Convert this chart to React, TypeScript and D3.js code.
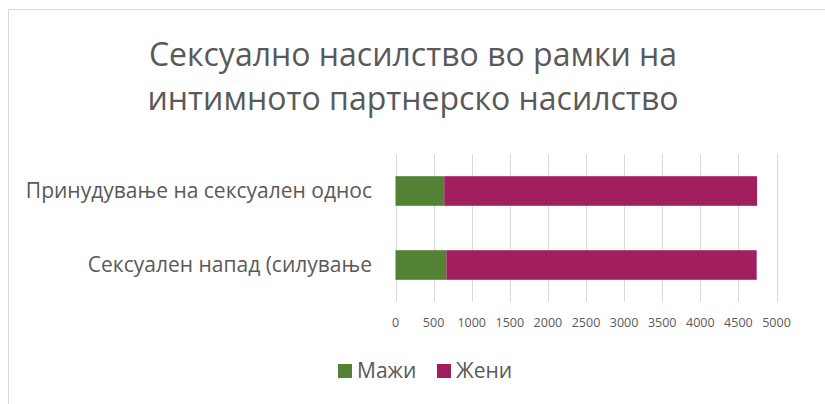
import React, { useEffect, useRef } from 'react';
import * as d3 from 'd3';

const categories = ['Принудување на сексуален однос', 'Сексуален напад (силување'];
const seriesNames = ['Мажи', 'Жени'];
const maleValues = [640, 667];
const femaleValues = [4105, 4073];
const xTicks = [0, 500, 1000, 1500, 2000, 2500, 3000, 3500, 4000, 4500, 5000];
const colors = ['#548235', '#a21f5e'];
const titleLines = ['Сексуално насилство во рамки на', 'интимното партнерско насилство'];

const App: React.FC = () => {
    const svgRef = useRef<SVGSVGElement>(null);

    useEffect(() => {
        if (!svgRef.current) return;
        const svg = d3.select(svgRef.current);
        svg.selectAll('*').remove();

        const font = 'Open Sans, sans-serif';
        const textColor = '#595959';

        // Chart frame
        svg.append('rect')
            .attr('x', 8.5)
            .attr('y', 9.5)
            .attr('width', 830)
            .attr('height', 420)
            .attr('fill', 'white')
            .attr('stroke', '#d9d9d9')
            .attr('stroke-width', 1);

        // Title
        svg.append('text')
            .attr('text-anchor', 'middle')
            .attr('font-family', font)
            .attr('font-size', '32px')
            .attr('fill', textColor)
            .selectAll('tspan')
            .data(titleLines)
            .enter()
            .append('tspan')
            .attr('x', 413)
            .attr('y', (_d, i) => 66 + i * 44)
            .text(d => d);

        const x = d3.scaleLinear().domain([0, 5000]).range([395.5, 776.5]);
        const y = d3.scaleBand<string>()
            .domain(categories)
            .range([154, 302])
            .paddingInner(0.6)
            .paddingOuter(0.3);

        // Gridlines
        svg.append('g')
            .selectAll('line')
            .data(xTicks)
            .enter()
            .append('line')
            .attr('x1', d => Math.round(x(d)) + 0.5)
            .attr('x2', d => Math.round(x(d)) + 0.5)
            .attr('y1', 154)
            .attr('y2', 302)
            .attr('stroke', '#d9d9d9')
            .attr('stroke-width', 1);

        // Stacked bars
        const rows = categories.map((c, i) => ({ cat: c, male: maleValues[i], female: femaleValues[i] }));
        const stack = d3.stack<any>().keys(['male', 'female'])(rows);

        svg.append('g')
            .selectAll('g')
            .data(stack)
            .enter()
            .append('g')
            .attr('fill', (_d, i) => colors[i])
            .selectAll('rect')
            .data(d => d)
            .enter()
            .append('rect')
            .attr('x', d => x(d[0]))
            .attr('y', d => y(d.data.cat) as number)
            .attr('width', d => x(d[1]) - x(d[0]))
            .attr('height', y.bandwidth());

        // Category labels
        svg.append('g')
            .selectAll('text')
            .data(categories)
            .enter()
            .append('text')
            .attr('x', 372)
            .attr('y', d => (y(d) as number) + y.bandwidth() / 2 + 7)
            .attr('text-anchor', 'end')
            .attr('font-family', font)
            .attr('font-size', '21px')
            .attr('fill', textColor)
            .text(d => d);

        // X tick labels
        svg.append('g')
            .selectAll('text')
            .data(xTicks)
            .enter()
            .append('text')
            .attr('x', d => x(d))
            .attr('y', 327)
            .attr('text-anchor', 'middle')
            .attr('font-family', font)
            .attr('font-size', '12.5px')
            .attr('fill', textColor)
            .text(d => String(d));

        // Legend
        const legendX = [338, 437];
        const legend = svg.append('g');
        seriesNames.forEach((name, i) => {
            legend.append('rect')
                .attr('x', legendX[i])
                .attr('y', 364)
                .attr('width', 14)
                .attr('height', 14)
                .attr('fill', colors[i]);
            legend.append('text')
                .attr('x', legendX[i] + 19)
                .attr('y', 378)
                .attr('font-family', font)
                .attr('font-size', '21px')
                .attr('fill', textColor)
                .text(name);
        });
    }, []);

    return (
        <svg ref={svgRef} width={825} height={404} style={{ position: 'absolute', left: 0, top: 0 }} />
    );
};

export default App;
